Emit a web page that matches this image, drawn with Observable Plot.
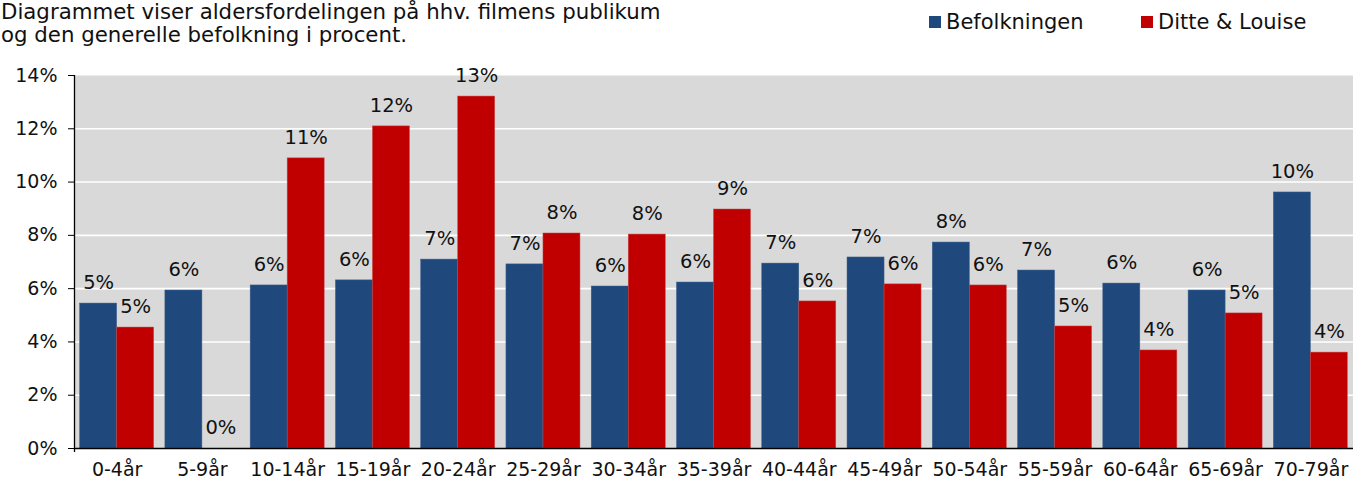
<!DOCTYPE html>
<html>
<head>
<meta charset="utf-8">
<script src="https://cdn.jsdelivr.net/npm/d3@7"></script>
<script src="https://cdn.jsdelivr.net/npm/@observablehq/plot@0.6"></script>
<style>
  html, body { margin: 0; padding: 0; background: #fff; }
  body { font-family: "DejaVu Sans", Verdana, sans-serif; color: #000; }
  #wrap { position: relative; width: 1353px; height: 481px; }
  #head { position: relative; height: 50px; }
  #title { position: absolute; left: 1px; top: 0px; font-size: 21.3px; line-height: 23px; white-space: nowrap; color: #111; }
  .leg { position: absolute; top: 10px; font-size: 21px; line-height: 24px; white-space: nowrap; display: flex; align-items: center; color: #111; }
  .sw { width: 12px; height: 12px; display: inline-block; margin-right: 5px; }
</style>
</head>
<body>
<div id="wrap">
  <div id="head">
    <div id="title">Diagrammet viser aldersfordelingen på hhv. filmens publikum<br>og den generelle befolkning i procent.</div>
    <div class="leg" style="left:929px"><span class="sw" style="background:#1F497D"></span>Befolkningen</div>
    <div class="leg" style="left:1141px"><span class="sw" style="background:#C00000"></span>Ditte &amp; Louise</div>
  </div>
  <div id="chart"></div>
</div>
<script>
const categories = ["0-4år","5-9år","10-14år","15-19år","20-24år","25-29år","30-34år","35-39år","40-44år","45-49år","50-54år","55-59år","60-64år","65-69år","70-79år"];
const befolkningen = [5.44,5.93,6.12,6.31,7.09,6.91,6.08,6.23,6.94,7.17,7.73,6.68,6.19,5.93,9.61];
const ditteLouise = [4.54,0,10.89,12.09,13.21,8.07,8.03,8.97,5.52,6.16,6.12,4.58,3.68,5.07,3.60];
const yTicks = [0,2,4,6,8,10,12,14];
const gridTicks = [2,4,6,8,10,12];

const half = 0.434;
const blue = befolkningen.map((v,i) => ({i, v}));
const red = ditteLouise.map((v,i) => ({i, v}));
const font = "DejaVu Sans, Verdana, sans-serif";

const chart = Plot.plot({
  width: 1353,
  height: 431,
  marginLeft: 74,
  marginRight: 0,
  marginTop: 25,
  marginBottom: 33,
  style: {fontFamily: font, fontSize: "19px", color: "#111", background: "transparent"},
  x: {type: "linear", domain: [-0.5, 14.5]},
  y: {domain: [0, 14]},
  marks: [
    Plot.frame({fill: "#D9D9D9", stroke: null}),
    Plot.gridY(gridTicks, {stroke: "#fff", strokeOpacity: 1, strokeWidth: 1.6}),
    Plot.rectY(blue, {x1: d => d.i - half, x2: d => d.i, y1: 0, y2: "v", fill: "#1F497D", stroke: "#3E5F8C", strokeWidth: 0.5}),
    Plot.rectY(red, {x1: d => d.i, x2: d => d.i + half, y1: 0, y2: "v", fill: "#C00000", stroke: "#C84A4A", strokeWidth: 0.5}),
    Plot.text(blue, {x: d => d.i - half/2, y: "v", text: d => Math.round(d.v) + "%", dy: -21, fill: "#111", fontSize: 19.5}),
    Plot.text(red, {x: d => d.i + half/2, y: "v", text: d => Math.round(d.v) + "%", dy: -21, fill: "#111", fontSize: 19.5}),
    Plot.ruleY([0], {stroke: "#000", strokeWidth: 1.3}),
    Plot.ruleX([-0.5], {y1: -0.15, y2: 14, stroke: "#000", strokeWidth: 1.3}),
    Plot.axisY(yTicks, {tickSize: 6, tickPadding: 11, tickFormat: d => d + "%", label: null, stroke: "#000", fill: "#111", fontSize: 19}),
    Plot.axisX(d3.range(categories.length), {tickSize: 0, tickPadding: 14, tickFormat: i => categories[i], label: null, fill: "#111", fontSize: 19})
  ]
});
document.getElementById("chart").appendChild(chart);
</script>
</body>
</html>
